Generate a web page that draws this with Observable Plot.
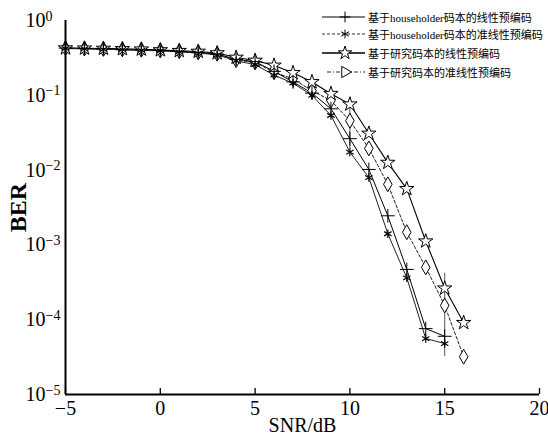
<!DOCTYPE html>
<html><head><meta charset="utf-8">
<script src="https://cdn.jsdelivr.net/npm/d3@7"></script>
<script src="https://cdn.jsdelivr.net/npm/@observablehq/plot@0.6"></script>
<style>
body{margin:0;background:#fff;}
#wrap{position:relative;width:548px;height:437px;}
.lrow{position:absolute;left:322px;height:14px;display:flex;align-items:center;font-family:"Liberation Serif","Noto Sans CJK SC",serif;font-size:11px;color:#000;white-space:nowrap;}
.lrow svg{margin-right:2px;}
</style></head><body><div id="wrap"></div>
<script>
// SNR (dB) sample points
const snr = [-5,-4,-3,-2,-1,0,1,2,3,4,5,6,7,8,9,10,11,12,13,14,15,16];
// BER: linear precoding with householder codebook (+)
const berLinearHH = [0.427,0.422,0.417,0.407,0.403,0.398,0.385,0.372,0.355,0.302,0.282,0.209,0.151,0.107,0.066,0.0263,0.0102,0.00245,0.00047,7.6e-5,6.0e-5];
// BER: quasi-linear precoding with householder codebook (*)
const berQuasiHH = [0.422,0.417,0.412,0.407,0.398,0.394,0.380,0.367,0.347,0.288,0.257,0.186,0.145,0.100,0.0537,0.0174,0.00794,0.00141,0.000363,5.6e-5,4.8e-5];
// BER: linear precoding with studied codebook (star)
const berLinearNew = [0.427,0.425,0.422,0.417,0.412,0.403,0.394,0.385,0.367,0.320,0.292,0.251,0.200,0.151,0.105,0.0759,0.0309,0.0126,0.00562,0.00112,0.000263,9.1e-5];
// BER: quasi-linear precoding with studied codebook (diamond)
const berQuasiNew = [0.427,0.422,0.417,0.412,0.407,0.398,0.389,0.376,0.359,0.295,0.275,0.204,0.166,0.115,0.0851,0.0457,0.0195,0.00646,0.00148,0.000501,0.000155,3.2e-5];
// stray vertical strokes in the original figure
const barSnr = [10, 15];
const barLo = [0.0195, 3.2e-5];
const barHi = [0.091, 4.2e-4];

const seriesNames = ["基于householder码本的线性预编码","基于householder码本的准线性预编码","基于研究码本的线性预编码","基于研究码本的准线性预编码"];
const xTicks = [-5,0,5,10,15,20];
const yTicks = [1,1e-1,1e-2,1e-3,1e-4,1e-5];

const toRows = (arr) => arr.map((v,i)=>({x:snr[i], y:v}));
const sLH = toRows(berLinearHH), sQH = toRows(berQuasiHH), sLN = toRows(berLinearNew), sQN = toRows(berQuasiNew);
const bars = barSnr.map((s,i)=>({x:s, lo:barLo[i], hi:barHi[i]}));

const font = '"Liberation Serif","Times New Roman",serif';
const chart = Plot.plot({
  width: 548, height: 437,
  marginLeft: 65, marginRight: 9, marginTop: 20, marginBottom: 43,
  style: {fontFamily: font, fontSize: "20px", color: "#000", background: "#fff"},
  x: {domain: [-5, 20]},
  y: {type: "log", domain: [1e-5, 1]},
  marks: [
    Plot.ruleX(bars, {x: "x", y1: "lo", y2: "hi", stroke: "#555", strokeWidth: 1}),
    Plot.line(sQN, {x: "x", y: "y", stroke: "#222", strokeWidth: 1, strokeDasharray: "3,2"}),
    Plot.line(sLN, {x: "x", y: "y", stroke: "#000", strokeWidth: 1.1}),
    Plot.line(sLH, {x: "x", y: "y", stroke: "#000", strokeWidth: 1}),
    Plot.line(sQH, {x: "x", y: "y", stroke: "#222", strokeWidth: 1}),
    Plot.dot(sQN, {x: "x", y: "y", symbol: "diamond", r: 4.5, fill: "white", stroke: "#000", strokeWidth: 1}),
    Plot.dot(sLN, {x: "x", y: "y", symbol: "star", r: 4.5, fill: "white", stroke: "#000", strokeWidth: 1}),
    Plot.dot(sLH, {x: "x", y: "y", symbol: "plus", r: 4.5, stroke: "#000", strokeWidth: 1}),
    Plot.dot(sQH, {x: "x", y: "y", symbol: "asterisk", r: 4, stroke: "#000", strokeWidth: 1.2}),
    Plot.ruleX([-5], {stroke: "#000", strokeWidth: 2}),
    Plot.ruleY([1e-5], {stroke: "#000", strokeWidth: 2}),
    Plot.axisX({ticks: xTicks, tickSize: 0, tickPadding: 6, fontSize: 20, label: "SNR/dB", labelAnchor: "center", labelOffset: 37, tickFormat: d => d < 0 ? "\u2212" + Math.abs(d) : String(d)}),
    Plot.axisX({ticks: xTicks, tickSize: 6, dy: -6, tickFormat: () => "", label: null, strokeWidth: 1.3}),
    Plot.axisY({ticks: yTicks, tickSize: 0, tickPadding: 40, fontSize: 20, label: null, tickFormat: d => "E" + Math.round(Math.log10(d))}),
    Plot.axisY({ticks: [], tickSize: 0, fontSize: 24, fontWeight: "bold", label: "BER", labelAnchor: "center", labelOffset: 57})
  ]
});

// superscript exponents on y tick labels (left-aligned like the original)
d3.select(chart).selectAll('g[aria-label="y-axis tick label"] text').each(function() {
  const t = d3.select(this);
  const e = parseInt(t.text().slice(1));
  t.text("").attr("text-anchor", "start").style("font-size", "20px");
  t.append("tspan").text("10");
  t.append("tspan").attr("dy", "-0.45em").style("font-size", "14px").text(e === 0 ? "0" : "\u2212" + Math.abs(e));
});
d3.select(chart).selectAll('g[aria-label="y-axis tick label"]').attr("text-anchor", "start");
// remove label arrows, set label sizes
d3.select(chart).selectAll('[aria-label="x-axis label"] text, [aria-label="y-axis label"] text').each(function() {
  this.textContent = this.textContent.replace(/\s*[\u2192\u2191\u2190\u2193]\s*/g, "");
});
d3.select(chart).selectAll('[aria-label="y-axis label"], [aria-label="y-axis label"] text')
  .attr("font-size", 24).style("font-size", "24px").style("font-weight", "bold");

const wrap = document.getElementById("wrap");
wrap.appendChild(chart);

// legend
const legendTops = [10, 27, 46, 65];
const legendDash = [null, "3,2", null, "4,2,1,2"];
const legendSym = [d3.symbolPlus, d3.symbolAsterisk, d3.symbolStar, d3.symbolTriangle];
const legendLineStart = [0, 0, 0, 5];
const legendWidth = [1, 1, 1.6, 1];
seriesNames.forEach((name, i) => {
  const row = document.createElement("div");
  row.className = "lrow";
  row.style.top = legendTops[i] + "px";
  const svg = d3.create("svg").attr("width", 44).attr("height", 14);
  svg.append("line").attr("x1", legendLineStart[i]).attr("x2", 43).attr("y1", 7).attr("y2", 7)
    .attr("stroke", i % 2 ? "#333" : "#000").attr("stroke-width", legendWidth[i]).attr("stroke-dasharray", legendDash[i]);
  svg.append("path").attr("d", d3.symbol(legendSym[i], i === 0 ? 40 : 55)())
    .attr("transform", `translate(23,7)` + (i === 3 ? " rotate(90)" : ""))
    .attr("fill", i >= 2 ? "white" : "none").attr("stroke", "#000").attr("stroke-width", 1);
  row.appendChild(svg.node());
  const span = document.createElement("span");
  span.textContent = name;
  row.appendChild(span);
  wrap.appendChild(row);
});
</script></body></html>
